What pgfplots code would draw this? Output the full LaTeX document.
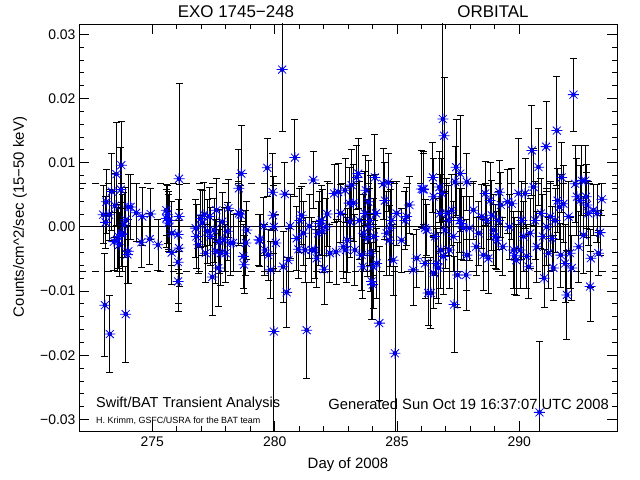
\documentclass[border=0pt]{standalone}
\usepackage{pgfplots}
\pgfplotsset{compat=1.18}
\usepackage{pgfplotstable}
\usepackage{fontspec}
\setmainfont{Liberation Sans}

\pgfdeclareplotmark{idlstar}{%
  \pgfpathmoveto{\pgfqpoint{-\pgfplotmarksize}{0pt}}%
  \pgfpathlineto{\pgfqpoint{\pgfplotmarksize}{0pt}}%
  \pgfpathmoveto{\pgfqpoint{0pt}{-\pgfplotmarksize}}%
  \pgfpathlineto{\pgfqpoint{0pt}{\pgfplotmarksize}}%
  \pgfpathmoveto{\pgfqpoint{-0.72\pgfplotmarksize}{-0.72\pgfplotmarksize}}%
  \pgfpathlineto{\pgfqpoint{0.72\pgfplotmarksize}{0.72\pgfplotmarksize}}%
  \pgfpathmoveto{\pgfqpoint{-0.72\pgfplotmarksize}{0.72\pgfplotmarksize}}%
  \pgfpathlineto{\pgfqpoint{0.72\pgfplotmarksize}{-0.72\pgfplotmarksize}}%
  \pgfusepathqstroke}

\pgfplotstableread{
x y e
272.99 0.0019 0.0045
273.12 0.0039 0.0050
273.09 0.0007 0.0040
273.23 0.0019 0.0040
273.34 0.0055 0.0060
273.47 0.0033 0.0050
273.43 -0.0023 0.0045
273.53 0.0082 0.0080
273.61 -0.0015 0.0050
273.71 0.0058 0.0065
273.73 0.0096 0.0068
273.64 -0.0028 0.0050
273.77 -0.0010 0.0060
273.84 0.0003 0.0050
273.91 0.0011 0.0050
274.02 0.0031 0.0050
274.11 0.0031 0.0050
274.02 -0.0038 0.0050
273.98 -0.0043 0.0045
273.91 -0.0136 0.0075
273.26 -0.0167 0.0060
273.06 -0.0122 0.0080
273.57 -0.0020 0.0050
273.75 -0.0012 0.0050
274.34 0.0022 0.0045
274.59 0.0016 0.0045
274.55 -0.0024 0.0040
274.89 -0.0019 0.0040
274.93 0.0020 0.0040
275.23 -0.0028 0.0040
275.57 0.0026 0.0040
275.61 0.0019 0.0045
275.65 0.0006 0.0045
275.57 0.0013 0.0045
275.79 -0.0010 0.0050
275.79 -0.0040 0.0050
275.68 0.0010 0.0045
276.09 0.0075 0.0148
276.09 0.0016 0.0050
276.05 -0.0012 0.0055
276.09 -0.0033 0.0060
276.05 -0.0055 0.0065
276.05 -0.0085 0.0047
276.77 -0.0002 0.0045
276.80 -0.0015 0.0050
276.88 -0.0028 0.0045
276.98 0.0013 0.0045
277.04 0.0006 0.0050
277.11 0.0019 0.0050
277.18 -0.0041 0.0045
277.25 -0.0007 0.0050
277.34 0.0016 0.0045
277.38 -0.0015 0.0045
277.45 -0.0078 0.0060
277.52 -0.0005 0.0050
277.59 -0.0038 0.0050
277.62 0.0026 0.0050
277.70 -0.0064 0.0060
277.73 -0.0023 0.0050
277.80 -0.0041 0.0050
277.86 0.0008 0.0045
277.93 -0.0020 0.0050
278.00 -0.0041 0.0045
278.07 -0.0007 0.0045
278.11 0.0029 0.0045
278.20 -0.0025 0.0050
278.30 -0.0025 0.0045
278.54 0.0021 0.0050
278.54 0.0060 0.0060
278.64 0.0083 0.0075
278.61 0.0019 0.0045
278.72 -0.0046 0.0050
278.75 -0.0059 0.0045
278.82 -0.0025 0.0050
278.86 -0.0005 0.0045
279.36 -0.0020 0.0040
279.40 -0.0021 0.0040
279.56 0.0001 0.0045
279.60 -0.0036 0.0040
279.70 0.0092 0.0045
279.74 -0.0044 0.0040
279.84 -0.0067 0.0045
279.92 0.0054 0.0060
279.94 0.0018 0.0060
279.97 0.0000 0.0065
279.97 -0.0163 0.0160
280.05 -0.0025 0.0045
280.31 0.0245 0.0097
280.35 -0.0062 0.0055
280.42 0.0051 0.0050
280.49 -0.0102 0.0055
280.56 -0.0052 0.0050
280.63 0.0001 0.0050
280.83 0.0108 0.0060
280.90 -0.0018 0.0050
280.97 -0.0035 0.0045
281.03 0.0010 0.0050
281.10 0.0018 0.0045
281.17 -0.0010 0.0050
281.24 -0.0036 0.0050
281.31 -0.0161 0.0075
281.42 0.0001 0.0050
281.51 -0.0036 0.0050
281.58 0.0073 0.0045
281.65 -0.0036 0.0045
281.72 -0.0049 0.0045
281.78 -0.0010 0.0050
281.85 0.0005 0.0050
281.92 0.0010 0.0055
281.96 -0.0006 0.0065
282.02 -0.0066 0.0055
282.10 0.0000 0.0045
282.15 0.0020 0.0050
282.26 -0.0041 0.0045
282.43 0.0052 0.0045
282.51 -0.0039 0.0050
282.60 0.0054 0.0045
282.70 0.0021 0.0045
282.81 -0.0031 0.0050
282.88 0.0057 0.0050
282.92 -0.0036 0.0050
282.97 -0.0021 0.0050
283.05 0.0037 0.0055
283.08 0.0008 0.0055
283.15 0.0065 0.0055
283.22 0.0037 0.0060
283.28 -0.0036 0.0055
283.35 0.0077 0.0050
283.42 0.0083 0.0055
283.46 0.0010 0.0060
283.56 -0.0044 0.0055
283.60 -0.0062 0.0050
283.63 -0.0010 0.0060
283.69 0.0021 0.0065
283.73 0.0057 0.0055
283.79 -0.0018 0.0060
283.83 0.0039 0.0065
283.87 0.0000 0.0060
283.90 0.0010 0.0070
283.93 -0.0041 0.0060
283.97 -0.0085 0.0060
284.01 -0.0090 0.0055
284.03 -0.0062 0.0065
284.06 -0.0015 0.0060
284.10 0.0077 0.0067
284.14 0.0021 0.0060
284.17 -0.0057 0.0055
284.28 -0.0150 0.0120
284.44 0.0067 0.0055
284.51 0.0041 0.0060
284.58 -0.0010 0.0065
284.65 0.0069 0.0045
284.69 -0.0021 0.0055
284.72 -0.0002 0.0060
284.78 0.0010 0.0060
284.85 -0.0052 0.0055
284.92 -0.0197 0.0135
284.99 0.0021 0.0050
285.19 -0.0021 0.0050
285.33 0.0010 0.0045
285.40 0.0016 0.0045
285.51 0.0034 0.0045
285.67 -0.0067 0.0055
285.81 -0.0049 0.0045
286.01 0.0059 0.0060
286.08 0.0058 0.0060
286.15 -0.0057 0.0055
286.22 -0.0005 0.0040
286.28 -0.0103 0.0050
286.09 0.0059 0.0055
286.15 -0.0002 0.0045
286.39 -0.0103 0.0055
286.47 0.0077 0.0055
286.50 0.0047 0.0060
286.50 -0.0072 0.0055
286.56 -0.0015 0.0060
286.63 -0.0057 0.0055
286.70 -0.0064 0.0055
286.74 0.0062 0.0055
286.77 0.0021 0.0060
286.80 -0.0036 0.0060
286.84 0.0052 0.0055
286.88 0.0168 0.0160
286.93 0.0142 0.0090
286.90 -0.0046 0.0060
286.97 -0.0005 0.0060
287.04 0.0021 0.0055
287.11 0.0010 0.0055
287.15 -0.0036 0.0060
287.25 0.0026 0.0055
287.31 -0.0015 0.0055
287.34 -0.0121 0.0075
287.38 0.0070 0.0055
287.42 0.0093 0.0075
287.48 -0.0075 0.0050
287.56 0.0010 0.0050
287.59 0.0083 0.0090
287.65 0.0005 0.0055
287.72 -0.0002 0.0050
287.83 -0.0075 0.0055
287.86 -0.0044 0.0055
287.86 0.0070 0.0045
287.97 -0.0002 0.0050
288.13 0.0026 0.0045
288.24 -0.0031 0.0045
288.34 -0.0010 0.0050
288.47 0.0016 0.0050
288.54 -0.0044 0.0055
288.61 0.0052 0.0050
288.68 0.0010 0.0055
288.74 -0.0049 0.0055
288.81 0.0041 0.0060
288.88 0.0018 0.0055
288.95 -0.0005 0.0055
289.02 -0.0015 0.0050
289.09 -0.0021 0.0045
289.15 0.0010 0.0045
289.19 0.0054 0.0050
289.25 0.0034 0.0050
289.33 -0.0031 0.0045
289.52 0.0039 0.0050
289.60 0.0000 0.0050
289.70 0.0036 0.0055
289.77 -0.0036 0.0060
289.81 -0.0045 0.0060
289.88 -0.0052 0.0055
289.97 0.0052 0.0085
290.04 -0.0036 0.0060
290.11 0.0010 0.0060
290.18 -0.0015 0.0055
290.24 0.0052 0.0055
290.31 -0.0046 0.0050
290.38 -0.0062 0.0050
290.45 -0.0010 0.0055
290.52 0.0119 0.0070
290.59 0.0062 0.0060
290.65 0.0010 0.0060
290.72 -0.0031 0.0055
290.79 0.0093 0.0060
290.83 -0.0289 0.0110
290.89 0.0021 0.0055
290.97 -0.0015 0.0065
291.02 -0.0080 0.0045
291.10 0.0125 0.0070
291.13 0.0000 0.0060
291.20 -0.0041 0.0055
291.27 0.0016 0.0055
291.34 -0.0018 0.0050
291.40 -0.0064 0.0050
291.47 0.0010 0.0050
291.54 0.0150 0.0085
291.57 0.0041 0.0050
291.65 0.0031 0.0050
291.70 -0.0044 0.0050
291.74 0.0077 0.0055
291.81 0.0036 0.0060
291.88 -0.0057 0.0060
291.95 -0.0106 0.0070
292.02 0.0016 0.0055
292.08 -0.0041 0.0055
292.15 -0.0064 0.0050
292.22 0.0206 0.0057
292.29 0.0067 0.0060
292.36 0.0047 0.0060
292.43 -0.0031 0.0055
292.49 0.0041 0.0055
292.56 0.0072 0.0055
292.63 -0.0013 0.0060
292.70 0.0072 0.0055
292.74 0.0047 0.0050
292.77 0.0034 0.0050
292.83 0.0021 0.0050
292.90 -0.0093 0.0055
292.93 -0.0049 0.0045
293.04 0.0026 0.0040
293.18 0.0021 0.0045
293.24 -0.0041 0.0035
293.31 -0.0009 0.0035
293.38 0.0043 0.0025
}\data

\begin{document}
\begin{tikzpicture}
\path[use as bounding box] (0,0) rectangle (640bp,480bp);
\begin{axis}[
  at={(79bp,49bp)}, anchor=south west,
  scale only axis, width=538bp, height=407bp,
  xmin=272, xmax=294, ymin=-0.0318, ymax=0.0316,
  axis line style={black, line width=0.8bp},
  tick style={black, line width=0.8bp},
  major tick length=10bp, minor tick length=5bp,
  xtick={275,280,285,290}, minor x tick num=4,
  ytick={-0.03,-0.02,-0.01,0,0.01,0.02,0.03},
  yticklabels={−0.03,−0.02,−0.01,0.00,0.01,0.02,0.03},
  minor y tick num=4,
  scaled y ticks=false,
  /pgf/number format/assume math mode=true,
  ticklabel style={font=\fontsize{14}{14}\selectfont},
  xticklabel style={yshift=-2bp},
]
\addplot[black, line width=0.8bp, forget plot] coordinates {(272,0) (294,0)};
\addplot[black, line width=0.8bp, dash pattern=on 7bp off 6bp, forget plot] coordinates {(272,0.0067) (294,0.0067)};
\addplot[black, line width=0.8bp, dash pattern=on 7bp off 6bp, forget plot] coordinates {(272,-0.0069) (294,-0.0069)};
\addplot[only marks, mark=none,
  error bars/.cd, y dir=both, y explicit,
  error mark=-,
  error bar style={black, line width=0.9bp},
  error mark options={rotate=90, black, line width=0.9bp, mark size=3.5bp}]
  table[x=x, y=y, y error=e] {\data};
\addplot[only marks, mark=idlstar, mark size=5.5bp, color={rgb,255:red,0;green,0;blue,255}, line width=0.8bp]
  table[x=x, y=y] {\data};
\end{axis}
\node at (236bp,468bp) {\fontsize{17}{17}\selectfont EXO 1745−248};
\node at (493bp,468bp) {\fontsize{17}{17}\selectfont ORBITAL};
\node at (348bp,15bp) {\fontsize{15}{15}\selectfont Day of 2008};
\node[rotate=90] at (20bp,263bp) {\fontsize{15}{15}\selectfont Counts/cm\^{}2/sec (15−50 keV)};
\node[anchor=west, inner sep=0pt] at (96bp,76bp) {\fontsize{14.5}{14.5}\selectfont Swift/BAT Transient Analysis};
\node[anchor=east, inner sep=0pt] at (609bp,76bp) {\fontsize{14.8}{14.8}\selectfont Generated Sun Oct 19 16:37:07 UTC 2008};
\node[anchor=west, inner sep=0pt] at (96bp,59bp) {\fontsize{9}{9}\selectfont H. Krimm, GSFC/USRA for the BAT team};
\end{tikzpicture}
\end{document}
